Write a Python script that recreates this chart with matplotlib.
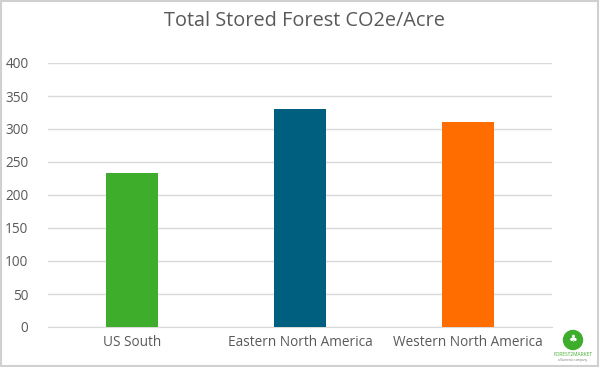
import matplotlib.pyplot as plt
from matplotlib.patches import Ellipse

# data
regions = ['US South', 'Eastern North America', 'Western North America']
co2e_per_acre = [233, 330, 311]
colors = ['#3EAD2C', '#005F7F', '#FF6D00']

plt.rcParams['font.family'] = ['Open Sans', 'DejaVu Sans']

fig = plt.figure(figsize=(6, 3.67), dpi=100)
ax = fig.add_axes([48 / 600, 1 - 327 / 367, 504 / 600, 264 / 367])

x = range(len(regions))
ax.bar(x, co2e_per_acre, width=0.31, color=colors, zorder=3)

ax.set_xlim(-0.5, 2.5)
ax.set_ylim(0, 400)
ax.set_yticks(range(0, 401, 50))
ax.set_xticks(list(x))
ax.set_xticklabels(regions)
ax.grid(axis='y', color='#D9D9D9', linewidth=1, zorder=0)
for s in ['top', 'right', 'left']:
    ax.spines[s].set_visible(False)
ax.spines['bottom'].set_color('#D9D9D9')
ax.tick_params(length=0, labelsize=9.8, colors='#595959', pad=6)
ax.tick_params(axis='y', pad=14)

fig.text(304 / 600, 1 - 21 / 367, 'Total Stored Forest CO2e/Acre', ha='center', va='center',
         fontsize=14.3, color='#595959')

# border around the chart
fig.patches.append(plt.Rectangle((0.002, 0.003), 0.995, 0.993, transform=fig.transFigure,
                                 fill=False, edgecolor='#D0D0D0', linewidth=1.5))

# logo
fig.patches.append(Ellipse((573 / 600, 1 - 340 / 367), 19 / 600, 19 / 367,
                           transform=fig.transFigure, color='#3EAD2C'))
fig.text(573 / 600, 1 - 340 / 367, '♣', ha='center', va='center', fontsize=7, color='white')
fig.text(573 / 600, 1 - 354 / 367, 'FOREST2MARKET', ha='center', va='center',
         fontsize=3.5, color='#3EAD2C')
fig.text(573 / 600, 1 - 360 / 367, 'a Numerati company', ha='center', va='center',
         fontsize=2.2, color='#777777')

fig.savefig('out.png', dpi=100)
